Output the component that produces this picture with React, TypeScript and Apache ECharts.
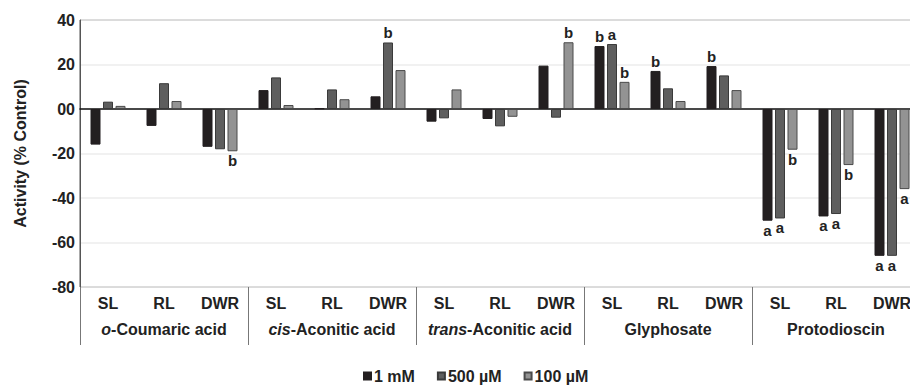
import React, { useEffect, useRef } from "react";
import * as echarts from "echarts";

const categories = ["SL", "RL", "DWR", "SL", "RL", "DWR", "SL", "RL", "DWR", "SL", "RL", "DWR", "SL", "RL", "DWR"];
const groups = ["{i|o}-Coumaric acid", "{i|cis}-Aconitic acid", "{i|trans}-Aconitic acid", "Glyphosate", "Protodioscin"];

const seriesNames = ["1 mM", "500 µM", "100 µM"];
const values1mM = [-16, -7.6, -17, 8.5, 0.3, 5.7, -5.7, -4.5, 19.5, 28.3, 17.1, 19.3, -50.2, -48.3, -66];
const values500uM = [3.3, 11.6, -18.1, 14.2, 8.8, 29.9, -4.2, -7.8, -3.9, 29.2, 9.3, 15.1, -49.2, -47.2, -66];
const values100uM = [1.4, 3.6, -19, 1.8, 4.4, 17.5, 8.8, -3.5, 30, 12.2, 3.6, 8.5, -18.3, -25.2, -36];

const letters1mM = ["", "", "", "", "", "", "", "", "", "b", "b", "b", "a", "a", "a"];
const letters500uM = ["", "", "", "", "", "b", "", "", "", "a", "", "", "a", "a", "a"];
const letters100uM = ["", "", "b", "", "", "", "", "", "b", "b", "", "", "b", "b", "a"];

const colors = ["#231f20", "#5e5e5e", "#939393"];
const borders = ["#231f20", "#3a3a3a", "#4a4a4a"];
const FONT = "'Liberation Sans', Arial, sans-serif";

export default function App() {
  const ref = useRef<HTMLDivElement>(null);
  useEffect(() => {
    if (!ref.current) return;
    const chart = echarts.init(ref.current, undefined, { renderer: "svg" });
    const all = [values1mM, values500uM, values100uM];
    const lets = [letters1mM, letters500uM, letters100uM];
    const series = all.map((vals, si) => ({
      name: seriesNames[si],
      type: "bar",
      xAxisIndex: 0,
      barWidth: 10,
      barGap: "25%",
      itemStyle: { color: colors[si], borderColor: borders[si], borderWidth: 1 },
      data: vals.map((v, i) => ({
        value: v,
        label: {
          show: lets[si][i] !== "",
          formatter: lets[si][i],
          position: v >= 0 ? "top" : "bottom",
          distance: 2,
          fontFamily: FONT,
          fontWeight: "bold",
          fontSize: 15,
          color: "#222",
        },
      })),
    }));
    chart.setOption({
      animation: false,
      textStyle: { fontFamily: FONT },
      grid: { left: 80, right: 10, top: 20, bottom: 98, show: true, borderColor: "#555", borderWidth: 1 },
      legend: {
        data: seriesNames,
        left: 358,
        top: 363,
        itemWidth: 7,
        itemHeight: 7,
        itemGap: 22,
        icon: "rect",
        textStyle: { fontFamily: FONT, fontWeight: "bold", fontSize: 16, color: "#222", padding: [0, 0, 0, -2] },
      },
      xAxis: [
        {
          type: "category",
          data: categories,
          position: "bottom",
          axisLine: { show: true, onZero: true, lineStyle: { color: "#111", width: 1.5 } },
          axisTick: { show: false },
          axisLabel: { fontFamily: FONT, fontWeight: "bold", fontSize: 16, color: "#222", margin: 8, interval: 0 },
        },
        {
          type: "category",
          data: groups,
          position: "bottom",
          axisLine: { show: false, onZero: false },
          axisTick: { show: true, length: 58, lineStyle: { color: "#777", width: 1 } },
          axisLabel: {
            interval: 0,
            margin: 34,
            fontFamily: FONT,
            fontWeight: "bold",
            fontSize: 16,
            color: "#222",
            rich: {
              i: { fontFamily: FONT, fontWeight: "bold", fontStyle: "italic", fontSize: 16, color: "#222" },
            },
          },
        },
      ],
      yAxis: {
        type: "value",
        min: -80,
        max: 40,
        interval: 20,
        name: "Activity (% Control)",
        nameLocation: "middle",
        nameGap: 52,
        nameTextStyle: { fontFamily: FONT, fontWeight: "bold", fontSize: 16, color: "#222" },
        axisLine: { show: true, lineStyle: { color: "#555" } },
        axisTick: { show: false },
        axisLabel: {
          fontFamily: FONT,
          fontWeight: "bold",
          fontSize: 16,
          color: "#222",
          margin: 5,
          formatter: (v: number) => (v === 0 ? "00" : String(v)),
        },
        splitLine: { show: true, lineStyle: { color: "#ececec", width: 1.5 } },
      },
      series,
    });
    return () => chart.dispose();
  }, []);
  return (
    <div style={{ position: "absolute", left: 0, top: 0, width: 910, height: 385, overflow: "hidden" }}>
      <div ref={ref} style={{ width: 930, height: 385 }} />
    </div>
  );
}
